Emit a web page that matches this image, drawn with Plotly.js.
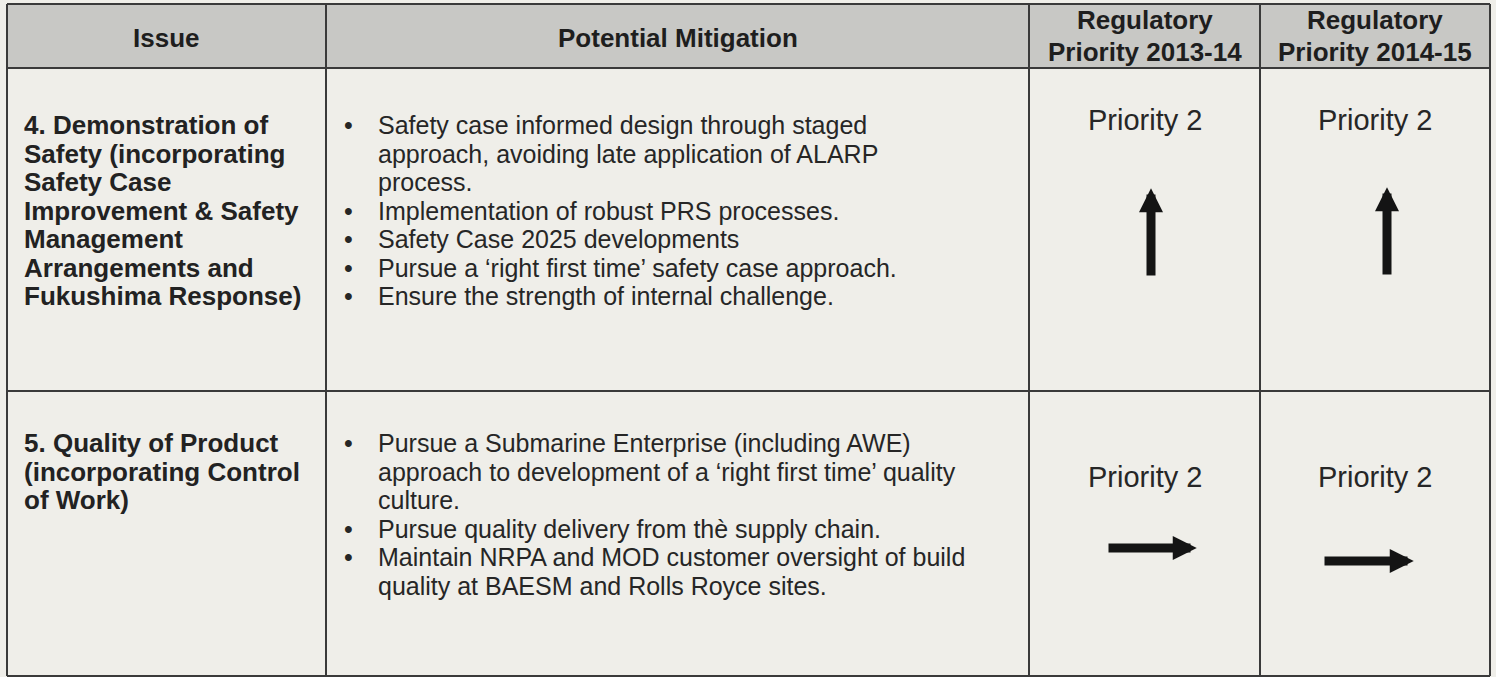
<!DOCTYPE html>
<html><head><meta charset="utf-8">
<script src="https://cdn.plot.ly/plotly-3.0.1.min.js"></script>
<style>html,body{margin:0;padding:0;background:#efeee9;} #chart{width:1496px;height:677px;}</style>
</head><body><div id="chart"></div>
<script>
// ---- table content ----
const headerLines = [["Issue"], ["Potential Mitigation"], ["Regulatory", "Priority 2013-14"], ["Regulatory", "Priority 2014-15"]];
const issueLines = [
  ["4. Demonstration of", "Safety (incorporating", "Safety Case", "Improvement & Safety", "Management", "Arrangements and", "Fukushima Response)"],
  ["5. Quality of Product", "(incorporating Control", "of Work)"]
];
const mitigationItems = [
  [["Safety case informed design through staged", "approach, avoiding late application of ALARP", "process."],
   ["Implementation of robust PRS processes."],
   ["Safety Case 2025 developments"],
   ["Pursue a \u2018right first time\u2019 safety case approach."],
   ["Ensure the strength of internal challenge."]],
  [["Pursue a Submarine Enterprise (including AWE)", "approach to development of a \u2018right first time\u2019 quality", "culture."],
   ["Pursue quality delivery from th\u00e8 supply chain."],
   ["Maintain NRPA and MOD customer oversight of build", "quality at BAESM and Rolls Royce sites."]]
];
const priority2013_14 = ["Priority 2", "Priority 2"];
const priority2014_15 = ["Priority 2", "Priority 2"];
const trend2013_14 = ["up", "right"];
const trend2014_15 = ["up", "right"];

// ---- geometry / style ----
const W = 1496, H = 677;
const colEdges = [7, 326, 1029, 1260, 1490];
const rowEdges = [4, 68, 391, 676];
const lineStep = 28.5;
const firstLineY = [125, 443];
const priorityY = [120, 477];
const headerY = [[38], [38], [20, 52], [20, 52]];
const issueX = 22, bulletX = 348, mitigX = 376;
const arrowGeom = [ // [centreX, centreY, length] per row, per priority column
  [[1151, 229.5, 95], [1387, 228.5, 95]],
  [[1155, 548, 96], [1371.5, 561, 97]]
];
const FONT = "Liberation Sans, Arial, Helvetica, sans-serif";
const textColor = "#262626";
const lineColor = "#3a3a3a";
const shaftW = 9, headScale = 4.8;

const shapes = [];
const annotations = [];

// header background
shapes.push({type: "rect", xref: "x", yref: "y", x0: colEdges[0], x1: colEdges[4], y0: rowEdges[0], y1: rowEdges[1],
  fillcolor: "#c8c8c5", line: {width: 0}, layer: "below"});
// grid lines
rowEdges.forEach(y => shapes.push({type: "line", xref: "x", yref: "y", x0: colEdges[0], x1: colEdges[4], y0: y, y1: y,
  line: {color: lineColor, width: 2}}));
colEdges.forEach(x => shapes.push({type: "line", xref: "x", yref: "y", x0: x, x1: x, y0: rowEdges[0], y1: rowEdges[3],
  line: {color: lineColor, width: 2}}));

function txt(x, y, text, opts) {
  annotations.push(Object.assign({xref: "x", yref: "y", x: x, y: y, text: text, showarrow: false,
    xanchor: "left", yanchor: "middle", font: {family: FONT, size: 25, color: textColor}}, opts || {}));
}

// headers
headerLines.forEach((lines, c) => {
  const cx = (colEdges[c] + colEdges[c + 1]) / 2;
  lines.forEach((l, i) => txt(cx, headerY[c][i], "<b>" + l + "</b>", {xanchor: "center", font: {family: FONT, size: 26, color: "#1e1e1e"}}));
});

// body rows
issueLines.forEach((lines, r) => {
  lines.forEach((l, i) => txt(issueX, firstLineY[r] + i * lineStep, "<b>" + l + "</b>", {font: {family: FONT, size: 26, color: "#222"}}));
  let k = 0;
  mitigationItems[r].forEach(item => {
    txt(bulletX, firstLineY[r] + k * lineStep, "\u2022", {xanchor: "center"});
    item.forEach(l => { txt(mitigX, firstLineY[r] + k * lineStep, l); k++; });
  });
  [priority2013_14, priority2014_15].forEach((pr, j) => {
    const cx = (colEdges[2 + j] + colEdges[3 + j]) / 2;
    txt(cx, priorityY[r], pr[r], {xanchor: "center", font: {family: FONT, size: 29, color: textColor}});
  });
  [trend2013_14, trend2014_15].forEach((tr, j) => {
    const g = arrowGeom[r][j];
    const back = 1.3 * headScale;
    let a;
    if (tr[r] === "up") {
      a = {x: g[0], y: g[1] - g[2] / 2 + back, ax: g[0], ay: g[1] + g[2] / 2};
    } else if (tr[r] === "down") {
      a = {x: g[0], y: g[1] + g[2] / 2 - back, ax: g[0], ay: g[1] - g[2] / 2};
    } else {
      a = {x: g[0] + g[2] / 2 - back, y: g[1], ax: g[0] - g[2] / 2, ay: g[1]};
    }
    annotations.push(Object.assign({xref: "x", yref: "y", axref: "x", ayref: "y", text: "", showarrow: true,
      arrowhead: 2, arrowwidth: shaftW, arrowsize: headScale / shaftW, arrowcolor: "#141414", standoff: 0}, a));
  });
});

const layout = {
  width: W, height: H,
  margin: {l: 0, r: 0, t: 0, b: 0},
  paper_bgcolor: "#efeee9", plot_bgcolor: "#efeee9",
  xaxis: {range: [0, W], visible: false, fixedrange: true},
  yaxis: {range: [H, 0], visible: false, fixedrange: true},
  showlegend: false,
  shapes: shapes,
  annotations: annotations
};
Plotly.newPlot("chart", [], layout, {displayModeBar: false, staticPlot: true});
</script>
</body></html>
